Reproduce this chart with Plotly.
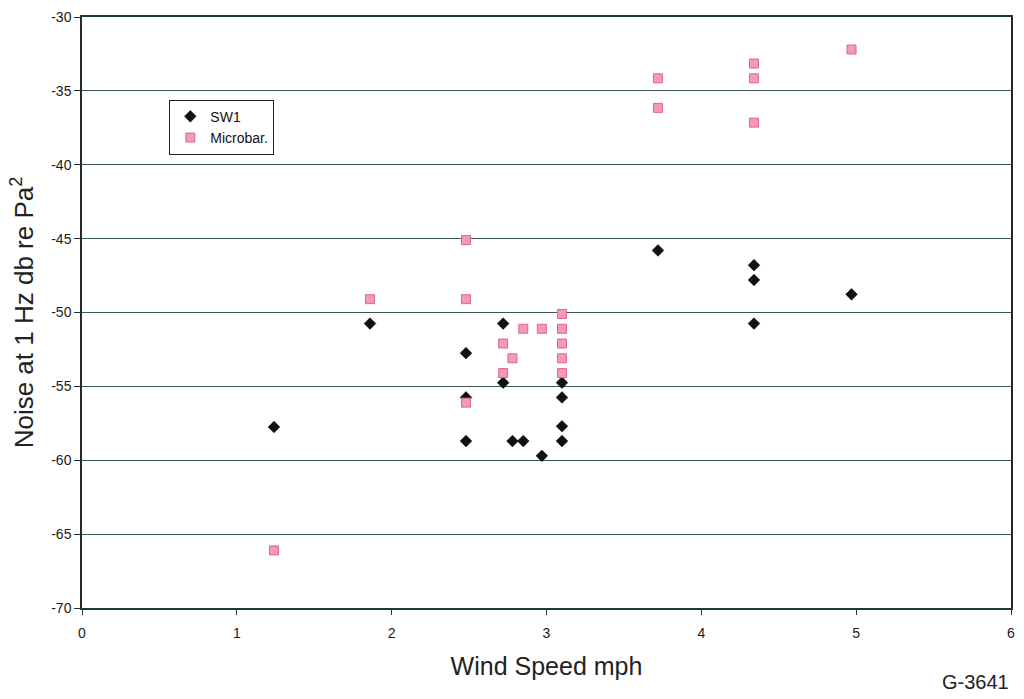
import plotly.graph_objects as go

# Noise level at 1 Hz versus wind speed for two sensors
sw1_speed = [1.24, 1.86, 2.48, 2.48, 2.48, 2.72, 2.72, 2.78, 2.85, 2.97,
             3.10, 3.10, 3.10, 3.10, 3.72, 4.34, 4.34, 4.34, 4.97]
sw1_noise = [-57.75, -50.75, -52.75, -55.75, -58.7, -50.75, -54.75, -58.7, -58.7, -59.7,
             -54.75, -55.75, -57.7, -58.7, -45.8, -46.8, -47.8, -50.75, -48.77]

mb_speed = [1.24, 1.86, 2.48, 2.48, 2.48, 2.72, 2.72, 2.78, 2.85, 2.97,
            3.10, 3.10, 3.10, 3.10, 3.10, 3.72, 3.72, 4.34, 4.34, 4.34, 4.97]
mb_noise = [-66.1, -49.1, -45.1, -49.1, -56.1, -52.1, -54.1, -53.1, -51.1, -51.1,
            -50.1, -51.1, -52.1, -53.1, -54.1, -34.15, -36.15, -33.15, -34.15, -37.15, -32.2]

x_ticks = [0, 1, 2, 3, 4, 5, 6]
y_ticks = [-70, -65, -60, -55, -50, -45, -40, -35, -30]

fig = go.Figure()
fig.add_trace(go.Scatter(
    x=sw1_speed, y=sw1_noise, mode="markers", name="SW1",
    marker=dict(symbol="diamond", size=9, color="#111111",
                line=dict(color="#000000", width=0.5)),
))
fig.add_trace(go.Scatter(
    x=mb_speed, y=mb_noise, mode="markers", name="Microbar.",
    marker=dict(symbol="square", size=9, color="#f29bb2",
                line=dict(color="#e0668a", width=1)),
))

axis_font = dict(family="Liberation Sans, Arial, sans-serif", size=14, color="#1a1a1a")

fig.update_layout(
    width=1024, height=699,
    margin=dict(l=82, r=9, t=15, b=91),
    paper_bgcolor="white", plot_bgcolor="white",
    font=dict(family="Liberation Sans, Arial, sans-serif", color="#222222"),
    showlegend=True,
    legend=dict(
        x=0.094, y=0.86, xanchor="left", yanchor="top",
        bgcolor="white", bordercolor="#222222", borderwidth=1,
        font=dict(size=14, color="#111111"),
        itemsizing="trace", itemwidth=30, tracegroupgap=0,
    ),
    xaxis=dict(
        range=[0, 6], tickvals=x_ticks, ticktext=[str(v) for v in x_ticks],
        showgrid=False, zeroline=False,
        showline=True, linecolor="#1f3a2e", linewidth=1.5, mirror=True,
        ticks="outside", ticklen=5, tickcolor="#1f3a2e",
        tickfont=axis_font, ticklabelstandoff=6,
        title=dict(text="Wind Speed mph", font=dict(size=25, color="#222222"), standoff=18),
    ),
    yaxis=dict(
        range=[-70, -30], tickvals=y_ticks, ticktext=[str(v) for v in y_ticks],
        showgrid=True, gridcolor="#3a5a48", gridwidth=1.2, zeroline=False,
        showline=True, linecolor="#1f2a30", linewidth=1.5, mirror=True,
        ticks="outside", ticklen=6, tickcolor="#1f2a30",
        tickfont=axis_font,
        title=dict(text="Noise at 1 Hz db re Pa<sup>2</sup>",
                   font=dict(size=26, color="#222222"), standoff=10),
    ),
    annotations=[dict(
        text="G-3641", xref="paper", yref="paper", x=1.0, y=-0.125,
        xanchor="right", yanchor="middle", showarrow=False,
        font=dict(size=20, color="#222222"),
    )],
)

fig.write_html("out.html")
